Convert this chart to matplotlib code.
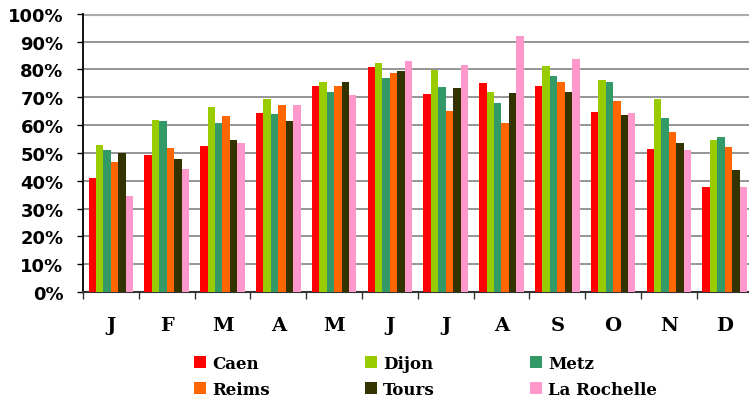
import numpy as np
import matplotlib
matplotlib.use('Agg')
import matplotlib.pyplot as plt
from matplotlib.ticker import FixedLocator, NullFormatter

# Monthly values (%) per city
months = ['J', 'F', 'M', 'A', 'M', 'J', 'J', 'A', 'S', 'O', 'N', 'D']
cities = ['Caen', 'Dijon', 'Metz', 'Reims', 'Tours', 'La Rochelle']
caen = [41.0, 49.2, 52.5, 64.3, 74.0, 80.8, 71.1, 75.1, 74.0, 64.7, 51.4, 37.7]
dijon = [52.8, 61.8, 66.5, 69.3, 75.4, 82.3, 79.8, 71.9, 81.2, 76.2, 69.3, 54.6]
metz = [51.0, 61.4, 60.7, 64.0, 71.9, 76.9, 73.7, 67.9, 77.6, 75.4, 62.5, 55.7]
reims = [46.7, 51.7, 63.2, 67.2, 74.0, 78.7, 65.0, 60.7, 75.4, 68.6, 57.5, 52.1]
tours = [49.9, 47.8, 54.6, 61.4, 75.4, 79.4, 73.3, 71.5, 71.9, 63.6, 53.5, 43.8]
la_rochelle = [34.5, 44.2, 53.5, 67.2, 70.8, 83.0, 81.6, 92.0, 83.7, 64.3, 51.0, 37.7]
colors = ['#ff0000', '#99cc00', '#339966', '#ff6600', '#333300', '#ff99cc']

series = [caen, dijon, metz, reims, tours, la_rochelle]

fig = plt.figure(figsize=(7.49, 4.06), dpi=100)
ax = fig.add_axes([0.1108, 0.2783, 0.894, 0.6855])

n = len(series)
width = 0.8 / n
x = np.arange(len(months)) + 0.5
handles = []
for i, (vals, c, name) in enumerate(zip(series, colors, cities)):
    offs = (i - (n - 1) / 2) * width
    b = ax.bar(x + offs, vals, width, color=c, label=name, zorder=3, linewidth=0)
    handles.append(b)

ax.set_xlim(0, len(months))
ax.set_ylim(0, 100)
ax.set_yticks(np.arange(0, 101, 10))
ax.set_yticklabels([f'{v}%' for v in range(0, 101, 10)],
                   fontsize=13, fontweight='bold', family='DejaVu Sans')
ax.yaxis.grid(True, color='#8c8c8c', lw=1.3, zorder=0)
ax.set_axisbelow(True)

ax.xaxis.set_major_locator(FixedLocator(np.arange(0, len(months) + 1)))
ax.xaxis.set_major_formatter(NullFormatter())
ax.xaxis.set_minor_locator(FixedLocator(x))
ax.set_xticklabels(months, minor=True, fontsize=14, fontweight='bold',
                   family='DejaVu Serif')
ax.tick_params(axis='x', which='minor', length=0, pad=17)
ax.tick_params(axis='x', which='major', length=5, width=1, color='#333333', direction='out')
ax.tick_params(axis='y', length=4, width=1, direction='out', pad=10)

for s in ['top', 'right']:
    ax.spines[s].set_visible(False)
ax.spines['left'].set_color('black')
ax.spines['left'].set_linewidth(1.3)
ax.spines['bottom'].set_color('#333333')
ax.spines['bottom'].set_linewidth(1.5)
ax.axhline(100, color='#aaaaaa', lw=3, zorder=1)

# legend: row-wise order Caen Dijon Metz / Reims Tours La Rochelle
order = [0, 3, 1, 4, 2, 5]
fig.legend([handles[i] for i in order], [cities[i] for i in order],
           ncol=3, loc='center', bbox_to_anchor=(0.568, 0.07), frameon=False,
           handlelength=0.75, handleheight=0.75, handletextpad=0.35,
           columnspacing=5.7, labelspacing=0.55,
           prop={'family': 'DejaVu Serif', 'weight': 'bold', 'size': 12})

fig.savefig('out.png', dpi=100)
